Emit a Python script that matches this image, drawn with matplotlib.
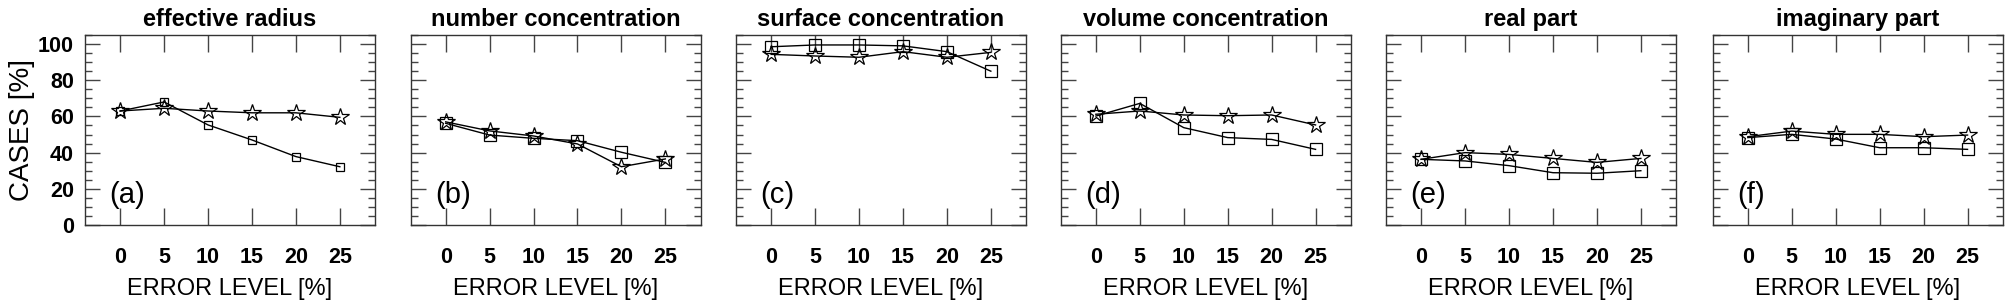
import matplotlib.pyplot as plt
from matplotlib.ticker import MultipleLocator

plt.rcParams['font.family'] = ['Liberation Sans', 'DejaVu Sans']

error_level = [0, 5, 10, 15, 20, 25]
titles = ["effective radius", "number concentration", "surface concentration",
          "volume concentration", "real part", "imaginary part"]
panel_tags = ["(a)", "(b)", "(c)", "(d)", "(e)", "(f)"]

# squares
squares = [
    [63, 68, 55.3, 47, 37.8, 32.2],
    [56.2, 49.7, 47.9, 46.6, 40.2, 34.6],
    [98.5, 99.5, 99.5, 99, 95.8, 85],
    [60.2, 67.2, 53.8, 48.3, 47.3, 41.8],
    [36.3, 35.4, 32.8, 28.9, 28.6, 30],
    [48.3, 50.1, 47.5, 42.7, 42.7, 41.8],
]
# stars
stars = [
    [63, 64.5, 63, 62, 62, 59.5],
    [57, 52, 49.2, 44.8, 32.2, 36.5],
    [94.3, 93.4, 92.7, 95.8, 92.7, 95.4],
    [61.2, 63, 60.8, 60.4, 60.8, 55.3],
    [36.3, 40, 39, 36.8, 34.6, 36.8],
    [48.8, 51.9, 50.1, 50.1, 48.8, 49.7],
]
square_size = [6, 9, 9, 9, 9, 9]

W, H = 2010, 306
fig = plt.figure(figsize=(W / 100, H / 100), dpi=100)

lefts = [85, 410.5, 736, 1060.7, 1386, 1712.7]
for i, left in enumerate(lefts):
    ax = fig.add_axes([left / W, (H - 225) / H, 290 / W, 190 / H])
    ax.plot(error_level, squares[i], color='black', lw=1, marker='s',
            ms=square_size[i], mfc='none', mec='black', mew=0.9)
    ax.plot(error_level, stars[i], color='black', lw=1, marker='*', ms=13,
            mfc='none', mec='black', mew=0.9)
    ax.set_xlim(-4, 29)
    ax.set_ylim(0, 105)
    ax.set_xticks(error_level)
    ax.yaxis.set_major_locator(MultipleLocator(20))
    ax.yaxis.set_minor_locator(MultipleLocator(5))
    ax.tick_params(axis='x', which='major', direction='in', length=12, width=1,
                   top=True, pad=16, labelsize=15.5, color='#444444')
    ax.tick_params(axis='y', which='major', direction='in', length=11, width=1,
                   right=True, pad=8, labelsize=15.5, color='#444444')
    ax.tick_params(axis='y', which='minor', direction='in', length=5, width=1,
                   right=True, color='#444444')
    for lab in ax.get_xticklabels() + ax.get_yticklabels():
        lab.set_fontweight('bold')
    if i > 0:
        ax.set_yticklabels([])
    else:
        ax.set_ylabel("CASES [%]", fontsize=20, labelpad=2)
    for sp in ax.spines.values():
        sp.set_linewidth(1)
        sp.set_color('#333333')
    ax.set_title(titles[i], fontsize=17, fontweight='bold', pad=6.5)
    ax.set_xlabel("ERROR LEVEL [%]", fontsize=17, labelpad=7)
    ax.text(-1.2, 16.5, panel_tags[i], fontsize=21, va='center', ha='left')

fig.savefig('out.png', dpi=100)
